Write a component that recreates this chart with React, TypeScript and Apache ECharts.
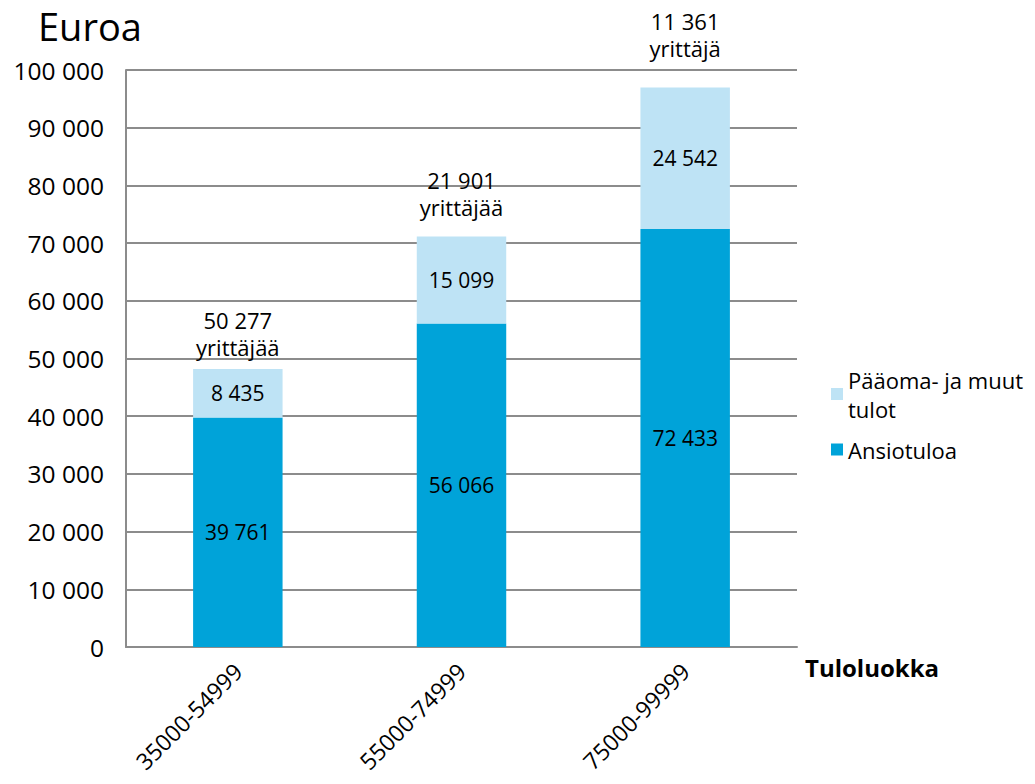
import React, { useEffect, useRef } from "react";
import * as echarts from "echarts";

const categories = ["35000-54999", "55000-74999", "75000-99999"];
const ansiotuloa = [39761, 56066, 72433];
const paaoma = [8435, 15099, 24542];
const yrittajat = ["50 277\nyrittäjää", "21 901\nyrittäjää", "11 361\nyrittäjä"];
const yTicks = [0, 10000, 20000, 30000, 40000, 50000, 60000, 70000, 80000, 90000, 100000];

// label offsets above each stacked bar (style only)
const topLabelGap = [8, 16, 26];

const FONT = "'Open Sans', 'DejaVu Sans', sans-serif";
const fmt = (v: number) => String(v).replace(/\B(?=(\d{3})+(?!\d))/g, " ");

export default function App() {
  const ref = useRef<HTMLDivElement>(null);
  useEffect(() => {
    const chart = echarts.init(ref.current!, null, { renderer: "svg" });
    chart.setOption({
      animation: false,
      textStyle: { fontFamily: FONT, color: "#000" },
      grid: { left: 126, right: 238, top: 70, bottom: 137, containLabel: false },
      legend: {
        orient: "vertical",
        left: 826,
        top: 360,
        itemWidth: 12,
        itemHeight: 12,
        itemGap: 12,
        icon: "rect",
        data: ["Pääoma- ja muut\ntulot", "Ansiotuloa"],
        textStyle: { fontFamily: FONT, fontSize: 22, color: "#000", lineHeight: 29 },
      },
      xAxis: {
        type: "category",
        data: categories,
        axisLine: { lineStyle: { color: "#8c8c8c", width: 2 } },
        axisTick: { show: false },
        axisLabel: { rotate: 45, fontSize: 23, color: "#000", fontFamily: FONT, margin: 20 },
      },
      yAxis: {
        type: "value",
        min: yTicks[0],
        max: yTicks[yTicks.length - 1],
        interval: 10000,
        axisLine: { show: true, lineStyle: { color: "#8c8c8c", width: 2 } },
        axisTick: { show: false },
        splitLine: { lineStyle: { color: "#8c8c8c", width: 2 } },
        axisLabel: { fontSize: 24.5, color: "#000", fontFamily: FONT, margin: 22, formatter: (v: number) => fmt(v) },
      },
      series: [
        {
          name: "Ansiotuloa",
          type: "bar",
          stack: "s",
          barWidth: "40%",
          data: ansiotuloa,
          itemStyle: { color: "#00A3D9" },
          label: { show: true, position: "inside", fontSize: 21, color: "#000", fontFamily: FONT, formatter: (p: any) => fmt(p.value) },
        },
        {
          name: "Pääoma- ja muut\ntulot",
          type: "bar",
          stack: "s",
          barWidth: "40%",
          data: paaoma,
          itemStyle: { color: "#BEE3F5" },
          label: { show: true, position: "inside", fontSize: 21, color: "#000", fontFamily: FONT, formatter: (p: any) => fmt(p.value) },
        },
        {
          name: "count",
          type: "bar",
          stack: "s",
          barWidth: "40%",
          data: yrittajat.map((_, i) => ({ value: 0, label: { distance: topLabelGap[i] } })),
          itemStyle: { color: "transparent" },
          label: {
            show: true,
            position: "top",
            fontSize: 22,
            lineHeight: 27,
            color: "#000",
            fontFamily: FONT,
            formatter: (p: any) => yrittajat[p.dataIndex],
          },
        },
      ],
      graphic: [
        { type: "text", left: 38, top: 7, style: { text: "Euroa", fontSize: 38, fontFamily: FONT, fill: "#000" } },
        { type: "text", left: 805, top: 655, style: { text: "Tuloluokka", fontSize: 24, fontWeight: "bold", fontFamily: FONT, fill: "#000" } },
      ],
    });
    return () => chart.dispose();
  }, []);
  return <div ref={ref} style={{ position: "absolute", left: 0, top: 0, width: 1035, height: 784 }} />;
}
